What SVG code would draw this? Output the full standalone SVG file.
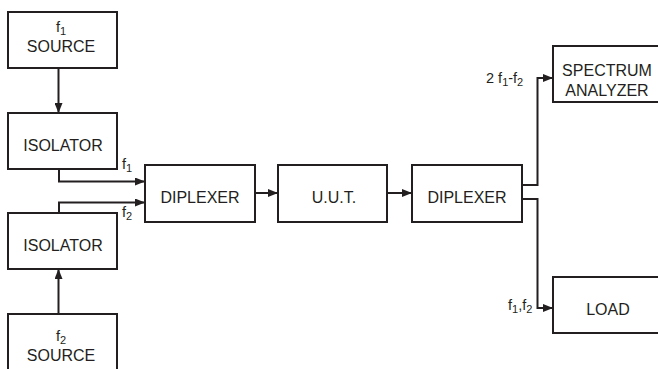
<svg xmlns="http://www.w3.org/2000/svg" width="658" height="369" viewBox="0 0 658 369">
<style>
.box{fill:#fff;stroke:#231f20;stroke-width:2}
.t{font-family:"Liberation Sans",Arial,sans-serif;font-size:16px;fill:#231f20;text-anchor:middle}
.l{font-family:"Liberation Sans",Arial,sans-serif;font-size:14.5px;fill:#231f20}
.s{font-size:11px}
.c{fill:none;stroke:#231f20;stroke-width:2}
</style>
<defs>
<marker id="ah" markerUnits="userSpaceOnUse" markerWidth="10" markerHeight="8" refX="10" refY="4" orient="auto">
<path d="M0,0 L10,4 L0,8 z" fill="#231f20"/>
</marker>
</defs>
<g id="src1"><rect class="box" x="8" y="12" width="109" height="56"/>
<text class="l" x="56" y="32">f<tspan class="s" dy="3">1</tspan></text>
<text class="t" x="61" y="52">SOURCE</text></g>
<g id="iso1"><rect class="box" x="8" y="113" width="109" height="56"/>
<text class="t" x="63" y="151">ISOLATOR</text></g>
<g id="iso2"><rect class="box" x="8" y="213" width="109" height="56"/>
<text class="t" x="63" y="251">ISOLATOR</text></g>
<g id="src2"><rect class="box" x="8" y="314" width="109" height="70"/>
<text class="l" x="56" y="341">f<tspan class="s" dy="3">2</tspan></text>
<text class="t" x="61" y="361">SOURCE</text></g>
<g id="dip1"><rect class="box" x="145" y="165" width="110" height="57"/>
<text class="t" x="200" y="203">DIPLEXER</text></g>
<g id="uut"><rect class="box" x="278" y="165" width="109" height="57"/>
<text class="t" x="334" y="203">U.U.T.</text></g>
<g id="dip2"><rect class="box" x="412" y="165" width="110" height="57"/>
<text class="t" x="467" y="203">DIPLEXER</text></g>
<g id="spec"><rect class="box" x="553" y="46" width="110" height="56"/>
<text class="t" x="607" y="75.5">SPECTRUM</text>
<text class="t" x="607" y="95.5">ANALYZER</text></g>
<g id="load"><rect class="box" x="553" y="277" width="110" height="56"/>
<text class="t" x="608" y="315">LOAD</text></g>
<g id="connectors">
<path class="c" d="M58.5,68 V113" marker-end="url(#ah)"/>
<path class="c" d="M58.5,314 V269" marker-end="url(#ah)"/>
<path class="c" d="M59,169 V181.5 H145" marker-end="url(#ah)"/>
<path class="c" d="M59,213 V202.5 H145" marker-end="url(#ah)"/>
<path class="c" d="M255,193 H278" marker-end="url(#ah)"/>
<path class="c" d="M387,193 H412" marker-end="url(#ah)"/>
<path class="c" d="M522,185 H537.5 V78 H553" marker-end="url(#ah)"/>
<path class="c" d="M522,199 H537.5 V308 H553" marker-end="url(#ah)"/>
</g>
<g id="labels">
<text class="l" x="122" y="169">f<tspan class="s" dy="3">1</tspan></text>
<text class="l" x="122" y="217">f<tspan class="s" dy="3">2</tspan></text>
<text class="l" x="486" y="83">2 f<tspan class="s" dy="3">1</tspan><tspan dy="-3">-f</tspan><tspan class="s" dy="3">2</tspan></text>
<text class="l" x="508" y="310">f<tspan class="s" dy="3">1</tspan><tspan dy="-3">,f</tspan><tspan class="s" dy="3">2</tspan></text>
</g>
</svg>
